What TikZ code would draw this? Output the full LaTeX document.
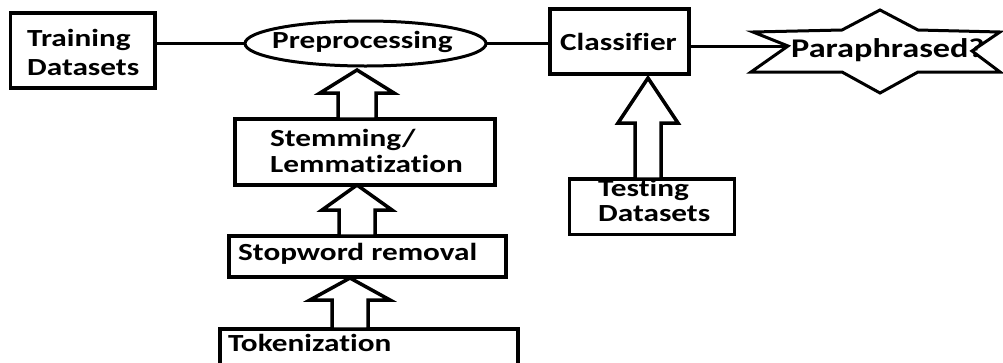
\documentclass[tikz,border=0pt]{standalone}
\usepackage{fontspec}
\setmainfont{Carlito}[FakeStretch=1.27, Ligatures=CommonOff]
\usetikzlibrary{shapes.geometric,calc}
\tikzset{
  box/.style={draw, line width=3.5pt, rectangle, inner sep=0pt, outer sep=0pt},
  oval/.style={draw, line width=3pt, ellipse, inner sep=0pt, outer sep=0pt},
  lbl/.style={anchor=base west, inner sep=0pt, font=\fontsize{24.6}{28}\selectfont\bfseries},
  conn/.style={line width=3pt},
  blockarr/.style={draw, line width=3.5pt, fill=white, line join=miter},
  starshape/.style={draw, line width=3pt, line join=miter, fill=white},
}
% #1 tip, #2 base node anchor, #3 head half-width, #4 shaft half-width, #5 head length
\newcommand{\blockuparrow}[5]{%
  \draw[blockarr] let \p1=(#1), \p2=(#2) in
    (\x1,\y1) -- (\x1+#3pt,\y1-#5pt) -- (\x1+#4pt,\y1-#5pt) -- (\x1+#4pt,\y2)
    -- (\x1-#4pt,\y2) -- (\x1-#4pt,\y1-#5pt) -- (\x1-#3pt,\y1-#5pt) -- cycle;
}
\begin{document}
\begin{tikzpicture}[x=1pt,y=-1pt]
\clip (0,0) rectangle (1003,362);
\fill[white] (0,0) rectangle (1003,362);

% boxes
\node[box, minimum width=144.5pt, minimum height=75pt] (train) at (82.75,50.5) {};
\node[oval, minimum width=241pt, minimum height=45pt] (pre) at (365.5,43.5) {};
\node[box, minimum width=139pt, minimum height=65pt] (cls) at (619.5,41.5) {};
\node[box, minimum width=260pt, minimum height=66pt] (stem) at (365,152) {};
\node[box, minimum width=277pt, minimum height=41pt] (stop) at (367.5,256.5) {};
\node[box, minimum width=298pt, minimum height=100pt] (tok) at (369,379) {};
\node[box, minimum width=165pt, minimum height=55.5pt] (test) at (652,206.75) {};

% star
\coordinate (sT) at (880,10);
\coordinate (sTR) at (918,30);
\coordinate (sUR) at (1000,32);
\coordinate (sR) at (972,51);
\coordinate (sLR) at (1000,72);
\coordinate (sBR) at (918,72);
\coordinate (sB) at (880,93);
\coordinate (sBL) at (842,72);
\coordinate (sLL) at (751,72);
\coordinate (sL) at (788,46);
\coordinate (sUL) at (753,32);
\coordinate (sTL) at (842,30);
\draw[starshape] (sT) -- (sTR) -- (sUR) -- (sR) -- (sLR) -- (sBR) -- (sB)
  -- (sBL) -- (sLL) -- (sL) -- (sUL) -- (sTL) -- cycle;

% connectors
\draw[conn] (train.east |- pre.west) -- (pre.west);
\draw[conn] (pre.east) -- (pre.east -| cls.west);
\draw[conn] (cls.east |- sL) -- (sL);

% block arrows
\coordinate (a1) at (357,70);
\coordinate (a2) at (357,185);
\coordinate (a3) at (350,278);
\coordinate (a4) at (648,78);
\blockuparrow{a1}{stem.north}{37}{19}{23}
\blockuparrow{a2}{stop.north}{35}{18}{25}
\blockuparrow{a3}{tok.north}{40}{18}{22}
\blockuparrow{a4}{test.north}{30}{13}{45}

% texts
\node[lbl] (tTrain1) at (27,46) {Training};
\node[lbl] (tTrain2) at (27,75) {Datasets};
\node[lbl] (tPre) at (272,48) {Preprocessing};
\node[lbl] (tCls) at (560,50) {Classifier};
\node[lbl, font=\fontsize{27}{30}\selectfont\bfseries] (tPara) at (791,57) {Paraphrased?};
\node[lbl] (tStem1) at (270,146) {Stemming/};
\node[lbl] (tStem2) at (270,172) {Lemmatization};
\node[lbl] (tStop) at (238,260) {Stopword removal};
\node[lbl] (tTok) at (228,351) {Tokenization};
\node[lbl] (tTest1) at (598,196) {Testing};
\node[lbl] (tTest2) at (598,221) {Datasets};
\end{tikzpicture}
\end{document}
